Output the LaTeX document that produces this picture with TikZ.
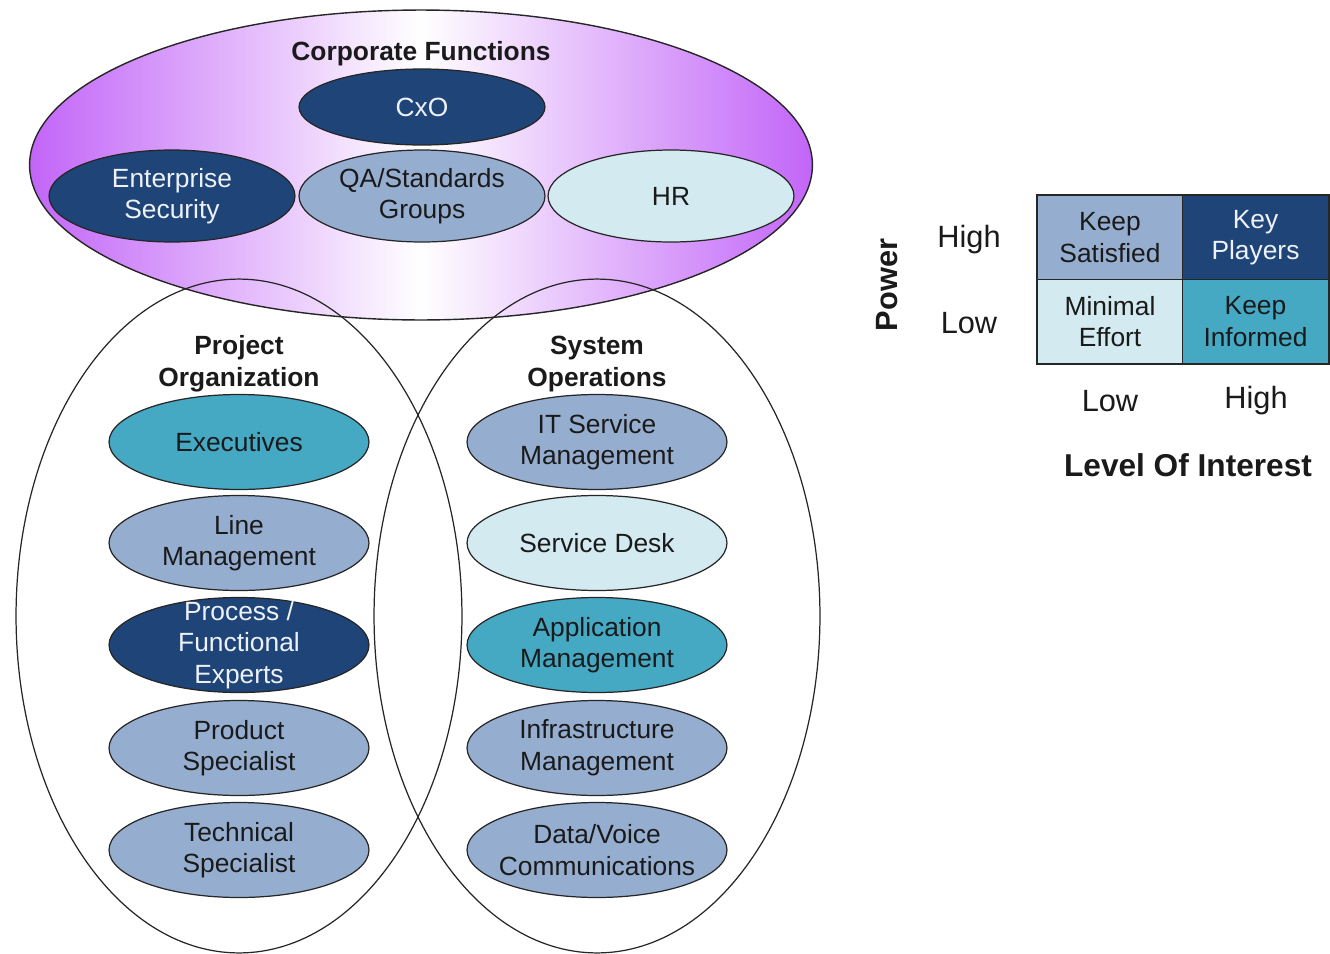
\documentclass[tikz,border=0pt]{standalone}
\usepackage{fontspec}
\setmainfont{Liberation Sans}
\usetikzlibrary{shapes.geometric}
\definecolor{navy}{HTML}{1F4478}
\definecolor{midb}{HTML}{95AED0}
\definecolor{lightc}{HTML}{D2EAF0}
\definecolor{teal}{HTML}{45A9C4}
\definecolor{pu}{HTML}{C265F8}
\definecolor{txtd}{HTML}{1A1A1A}
\definecolor{txtl}{HTML}{EEF2F8}
\pgfdeclarehorizontalshading{purp}{100bp}{color(0bp)=(pu); color(25bp)=(pu); color(50bp)=(white); color(75bp)=(pu); color(100bp)=(pu)}
\tikzset{
  base/.style={font=\fontsize{15}{18}\selectfont, align=center},
  oval/.style={ellipse, draw=black!85, line width=0.7pt, inner sep=0pt},
  small/.style={oval, minimum width=4.92cm, minimum height=1.84cm},
  big/.style={oval, minimum width=5.2cm, minimum height=1.9cm},
  dk/.style={fill=navy},
  md/.style={fill=midb},
  lt/.style={fill=lightc},
  tl/.style={fill=teal},
  lbd/.style={base, inner sep=0pt, text=txtd},
  lbl/.style={base, inner sep=0pt, text=txtl},
  cdk/.style={fill=navy, text=txtl},
  cmd/.style={fill=midb, text=txtd},
  clt/.style={fill=lightc, text=txtd},
  ctl/.style={fill=teal, text=txtd},
  cell/.style={base, rectangle, draw=black!85, line width=0.7pt, minimum width=2.91cm, minimum height=1.68cm, inner sep=0pt},
  ttl/.style={base, font=\fontsize{15}{18}\selectfont\bfseries, text=txtd},
  axis/.style={base, font=\fontsize{17.5}{20}\selectfont, text=txtd}
}
\begin{document}
\begin{tikzpicture}[x=0.02cm,y=-0.02cm]
\useasboundingbox (0,0) rectangle (1330,954);
% corporate functions
\node[ellipse, draw=black!85, line width=0.8pt, shading=purp, minimum width=15.66cm, minimum height=6.2cm, inner sep=0pt] (corp) at (421,165) {};
\node[ttl] (corpt) at (421,54) {Corporate Functions};
\node[small, dk, minimum height=1.52cm] (cxo) at (422,107) {};
\node[lbl] at (cxo) {CxO};
\node[small, dk] (es) at (172,196) {};
\node[lbl] at (es) {Enterprise\\Security};
\node[small, md] (qa) at (422,196) {};
\node[lbd] at (qa) {QA/Standards\\Groups};
\node[small, lt] (hr) at (671,196) {};
\node[lbd] at (hr) {HR};
% big ellipses
\node[ellipse, draw=black!85, line width=0.7pt, minimum width=8.92cm, minimum height=13.48cm, inner sep=0pt] (proj) at (239,616) {};
\node[ellipse, draw=black!85, line width=0.7pt, minimum width=8.92cm, minimum height=13.48cm, inner sep=0pt] (sys) at (597,616) {};
\node[ttl] (projt) at (239,364) {Project\\Organization};
\node[ttl] (syst) at (597,364) {System\\Operations};
% left column
\node[big, tl] (exe) at (239,442) {};
\node[lbd] at (exe) {Executives};
\node[big, md] (lm) at (239,543) {};
\node[lbd] at (lm) {Line\\Management};
\node[big, dk] (pfe) at (239,645) {};
\node[lbl] at (pfe) {Process /\\Functional\\Experts};
\node[big, md] (ps) at (239,748) {};
\node[lbd] at (ps) {Product\\Specialist};
\node[big, md] (ts) at (239,850) {};
\node[lbd] at (ts) {Technical\\Specialist};
% right column
\node[big, md] (itsm) at (597,442) {};
\node[lbd] at (itsm) {IT Service\\Management};
\node[big, lt] (sd) at (597,543) {};
\node[lbd] at (sd) {Service Desk};
\node[big, tl] (am) at (597,645) {};
\node[lbd] at (am) {Application\\Management};
\node[big, md] (im) at (597,748) {};
\node[lbd] at (im) {Infrastructure\\Management};
\node[big, md] (dv) at (597,850) {};
\node[lbd] at (dv) {Data/Voice\\Communications};
% legend
\node[cell, cmd] (ks) at (1110,237.5) {Keep\\Satisfied};
\node[cell, cdk] (kp) at (1255.5,237.5) {Key\\Players};
\node[cell, clt] (me) at (1110,321.5) {Minimal\\Effort};
\node[cell, ctl] (ki) at (1255.5,321.5) {Keep\\Informed};
\draw[black!85, line width=1.1pt] (ks.north west) rectangle (ki.south east);
\node[axis, font=\fontsize{17.5}{20}\selectfont\bfseries, rotate=90] (pow) at (887,285) {Power};
\node[axis] (ph) at (969,240) {High};
\node[axis] (pl) at (969,323) {Low};
\node[axis] (il) at (1110,401) {Low};
\node[axis] (ih) at (1256,401) {High};
\node[axis, font=\fontsize{18}{20}\selectfont\bfseries] (loi) at (1188,465) {Level Of Interest};
\end{tikzpicture}
\end{document}
